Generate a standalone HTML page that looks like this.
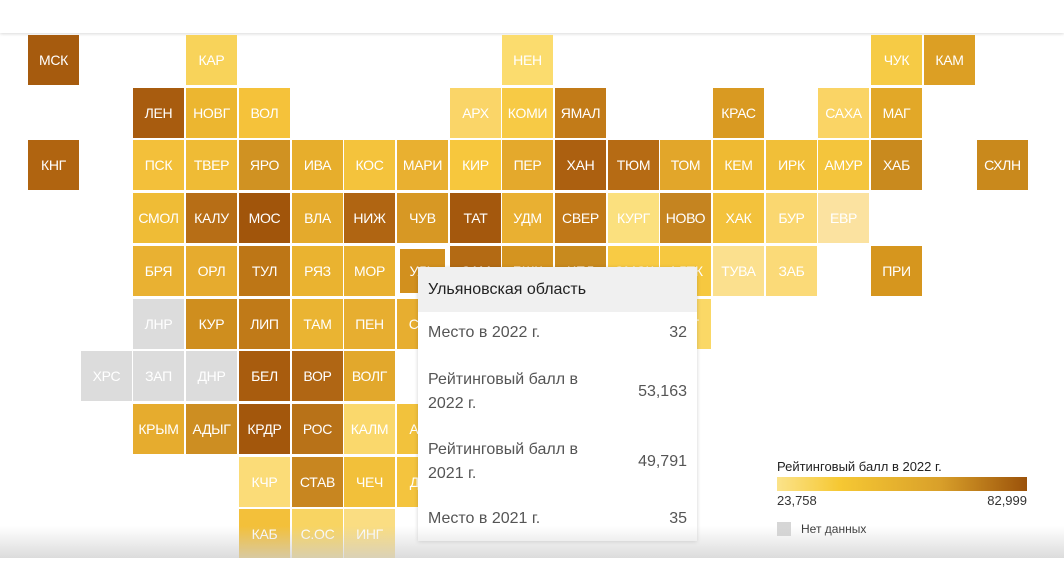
<!DOCTYPE html>
<html><head><meta charset="utf-8"><style>
body{margin:0;width:1064px;height:570px;overflow:hidden;background:#fff;font-family:"Liberation Sans","DejaVu Sans",sans-serif;position:relative}
.t{position:absolute;width:51px;height:50px;color:#fff;font-size:14px;display:flex;align-items:center;justify-content:center;letter-spacing:-0.3px}
.g{background:#dcdcdc}
.c0{left:28px}.c1{left:81px}.c2{left:133px}.c3{left:186px}.c4{left:239px}.c5{left:292px}.c6{left:344px}.c7{left:397px}.c8{left:450px}.c9{left:502px}.c10{left:555px}.c11{left:608px}.c12{left:660px}.c13{left:713px}.c14{left:766px}.c15{left:818px}.c16{left:871px}.c17{left:924px}.c18{left:977px}
.r0{top:35px}.r1{top:88px}.r2{top:140px}.r3{top:193px}.r4{top:246px}.r5{top:299px}.r6{top:351px}.r7{top:404px}.r8{top:457px}.r9{top:509px}
</style></head><body>
<div style="position:absolute;left:0;top:0;width:1064px;height:33px;background:#fff;box-shadow:0 1px 3px rgba(0,0,0,.15)"></div>

<div class="t c0 r0" style="background:#a65b0e">МСК</div>
<div class="t c3 r0" style="background:#f8d35a">КАР</div>
<div class="t c9 r0" style="background:#fbdc6e">НЕН</div>
<div class="t c16 r0" style="background:#f6cb45">ЧУК</div>
<div class="t c17 r0" style="background:#dc9f24">КАМ</div>

<div class="t c2 r1" style="background:#a85c0f">ЛЕН</div>
<div class="t c3 r1" style="background:#ecb630">НОВГ</div>
<div class="t c4 r1" style="background:#f5c23a">ВОЛ</div>
<div class="t c8 r1" style="background:#fad568">АРХ</div>
<div class="t c9 r1" style="background:#f7ca45">КОМИ</div>
<div class="t c10 r1" style="background:#c27b18">ЯМАЛ</div>
<div class="t c13 r1" style="background:#d99a22">КРАС</div>
<div class="t c15 r1" style="background:#fad465">САХА</div>
<div class="t c16 r1" style="background:#e2a828">МАГ</div>

<div class="t c0 r2" style="background:#b06410">КНГ</div>
<div class="t c2 r2" style="background:#f3c03a">ПСК</div>
<div class="t c3 r2" style="background:#efbb35">ТВЕР</div>
<div class="t c4 r2" style="background:#d09222">ЯРО</div>
<div class="t c5 r2" style="background:#e7ae2c">ИВА</div>
<div class="t c6 r2" style="background:#f4c33c">КОС</div>
<div class="t c7 r2" style="background:#e9b030">МАРИ</div>
<div class="t c8 r2" style="background:#f7c73d">КИР</div>
<div class="t c9 r2" style="background:#e4a92c">ПЕР</div>
<div class="t c10 r2" style="background:#ac6010">ХАН</div>
<div class="t c11 r2" style="background:#b66b14">ТЮМ</div>
<div class="t c12 r2" style="background:#e2a62a">ТОМ</div>
<div class="t c13 r2" style="background:#efba32">КЕМ</div>
<div class="t c14 r2" style="background:#f1bf38">ИРК</div>
<div class="t c15 r2" style="background:#f4c53c">АМУР</div>
<div class="t c16 r2" style="background:#c98a1e">ХАБ</div>
<div class="t c18 r2" style="background:#c9891c">СХЛН</div>

<div class="t c2 r3" style="background:#efbc36">СМОЛ</div>
<div class="t c3 r3" style="background:#b76e16">КАЛУ</div>
<div class="t c4 r3" style="background:#a1550b">МОС</div>
<div class="t c5 r3" style="background:#e4aa2c">ВЛА</div>
<div class="t c6 r3" style="background:#b06512">НИЖ</div>
<div class="t c7 r3" style="background:#d79824">ЧУВ</div>
<div class="t c8 r3" style="background:#a4580d">ТАТ</div>
<div class="t c9 r3" style="background:#e9b032">УДМ</div>
<div class="t c10 r3" style="background:#c07818">СВЕР</div>
<div class="t c11 r3" style="background:#fbe07e">КУРГ</div>
<div class="t c12 r3" style="background:#c58420">НОВО</div>
<div class="t c13 r3" style="background:#f3c23c">ХАК</div>
<div class="t c14 r3" style="background:#fad770">БУР</div>
<div class="t c15 r3" style="background:#fbe2a0">ЕВР</div>

<div class="t c2 r4" style="background:#e9b132">БРЯ</div>
<div class="t c3 r4" style="background:#e6ab2e">ОРЛ</div>
<div class="t c4 r4" style="background:#bd7616">ТУЛ</div>
<div class="t c5 r4" style="background:#eab330">РЯЗ</div>
<div class="t c6 r4" style="background:#e9b130">МОР</div>
<div class="t" style="left:400px;top:249px;width:45px;height:44px;background:#d2901e">УЛЬ</div>
<div class="t c8 r4" style="background:#b36a14">САМ</div>
<div class="t c9 r4" style="background:#d49420">БШК</div>
<div class="t c10 r4" style="background:#c88a1e">ЧЕЛ</div>
<div class="t c11 r4" style="background:#f8cb44">ОМСК</div>
<div class="t c12 r4" style="background:#f6c840">АЛТК</div>
<div class="t c13 r4" style="background:#fbe08e">ТУВА</div>
<div class="t c14 r4" style="background:#fbda78">ЗАБ</div>
<div class="t c16 r4" style="background:#d6961e">ПРИ</div>

<div class="t c2 r5 g">ЛНР</div>
<div class="t c3 r5" style="background:#cf8e1e">КУР</div>
<div class="t c4 r5" style="background:#c07a18">ЛИП</div>
<div class="t c5 r5" style="background:#eab432">ТАМ</div>
<div class="t c6 r5" style="background:#e7ae30">ПЕН</div>
<div class="t c7 r5" style="background:#e7ae30">САР</div>
<div class="t c12 r5" style="background:#fad866">АЛТ</div>

<div class="t c1 r6 g">ХРС</div>
<div class="t c2 r6 g">ЗАП</div>
<div class="t c3 r6 g">ДНР</div>
<div class="t c4 r6" style="background:#a85c0e">БЕЛ</div>
<div class="t c5 r6" style="background:#b06614">ВОР</div>
<div class="t c6 r6" style="background:#e2a82c">ВОЛГ</div>

<div class="t c2 r7" style="background:#e6ac2e">КРЫМ</div>
<div class="t c3 r7" style="background:#cd8e22">АДЫГ</div>
<div class="t c4 r7" style="background:#a3570c">КРДР</div>
<div class="t c5 r7" style="background:#b87218">РОС</div>
<div class="t c6 r7" style="background:#fad86c">КАЛМ</div>
<div class="t c7 r7" style="background:#f2c23c">АСТ</div>

<div class="t c4 r8" style="background:#fbdc78">КЧР</div>
<div class="t c5 r8" style="background:#c88620">СТАВ</div>
<div class="t c6 r8" style="background:#f2c03a">ЧЕЧ</div>
<div class="t c7 r8" style="background:#f4c43e">ДАГ</div>

<div class="t c4 r9" style="background:#f3c03a">КАБ</div>
<div class="t c5 r9" style="background:#f8d462">С.ОС</div>
<div class="t c6 r9" style="background:#fadd82">ИНГ</div>

<!-- tooltip -->
<div style="position:absolute;left:418px;top:267px;width:279px;height:274px;background:#fff;box-shadow:0 1px 4px rgba(0,0,0,.18);font-size:16px;color:#555">
 <div style="height:45px;background:#f0f0f0;color:#222;font-size:16px;line-height:45px;padding-left:10px">Ульяновская область</div>
 <div style="position:absolute;left:10px;top:57px">Место в 2022 г.</div>
 <div style="position:absolute;right:10px;top:57px">32</div>
 <div style="position:absolute;left:10px;top:101px;line-height:24px">Рейтинговый балл в<br>2022 г.</div>
 <div style="position:absolute;right:10px;top:116px">53,163</div>
 <div style="position:absolute;left:10px;top:171px;line-height:24px">Рейтинговый балл в<br>2021 г.</div>
 <div style="position:absolute;right:10px;top:186px">49,791</div>
 <div style="position:absolute;left:10px;top:243px">Место в 2021 г.</div>
 <div style="position:absolute;right:10px;top:243px">35</div>
</div>

<!-- legend -->
<div style="position:absolute;left:777px;top:459px;font-size:13px;color:#222">Рейтинговый балл в 2022 г.</div>
<div style="position:absolute;left:777px;top:477px;width:250px;height:14px;background:linear-gradient(to right,#fbe38a,#f6c833 25%,#d9a02a 65%,#9b520a)"></div>
<div style="position:absolute;left:777px;top:493px;font-size:13px;color:#333">23,758</div>
<div style="position:absolute;left:927px;width:100px;text-align:right;top:493px;font-size:13px;color:#333">82,999</div>
<div style="position:absolute;left:777px;top:522px;width:14px;height:14px;background:#d6d6d6"></div>
<div style="position:absolute;left:801px;top:522px;font-size:12px;color:#333">Нет данных</div>

<!-- bottom fade -->
<div style="position:absolute;left:0;top:526px;width:1064px;height:32px;background:linear-gradient(to bottom,rgba(255,255,255,0),rgba(205,205,205,.7))"></div>
<div style="position:absolute;left:0;top:558px;width:1064px;height:12px;background:#fff"></div>
</body></html>
